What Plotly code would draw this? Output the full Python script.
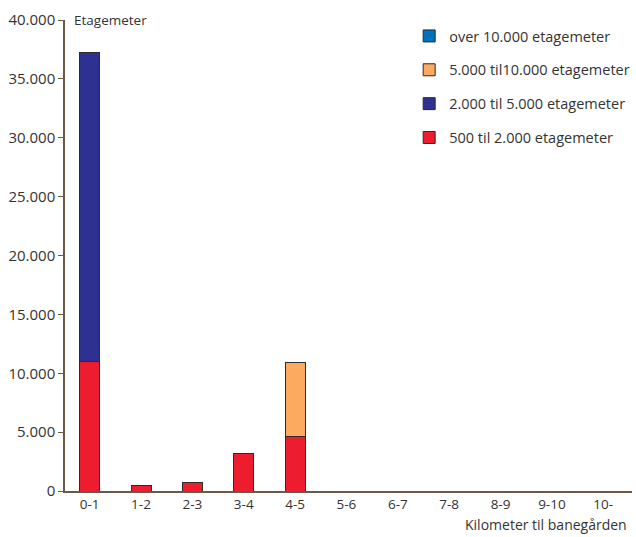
import plotly.graph_objects as go

categories = ["0-1", "1-2", "2-3", "3-4", "4-5", "5-6", "6-7", "7-8", "8-9", "9-10", "10-"]
s_500_2000 = [11000, 500, 730, 3160, 4630, 0, 0, 0, 0, 0, 0]
s_2000_5000 = [26200, 0, 0, 0, 0, 0, 0, 0, 0, 0, 0]
s_5000_10000 = [0, 0, 0, 0, 6270, 0, 0, 0, 0, 0, 0]
s_over_10000 = [0, 0, 0, 0, 0, 0, 0, 0, 0, 0, 0]

series = [
    ("500 til 2.000 etagemeter", s_500_2000, "#ED1C2E", 4),
    ("2.000 til 5.000 etagemeter", s_2000_5000, "#2E3192", 3),
    ("5.000 til10.000 etagemeter", s_5000_10000, "#FBAA60", 2),
    ("over 10.000 etagemeter", s_over_10000, "#0072BC", 1),
]

FONT = "Open Sans"
TXT = "#333333"
fig = go.Figure()
for name, vals, col, rank in series:
    fig.add_trace(go.Bar(
        x=categories, y=vals, name=name, legendgroup=name, legendrank=rank,
        marker=dict(color=col, line=dict(color="#2b2b2b", width=1)),
        width=0.39,
    ))

fig.update_layout(
    barmode="stack",
    width=636, height=537,
    margin=dict(l=65, r=1, t=20, b=46),
    plot_bgcolor="white", paper_bgcolor="white",
    separators=",.",
    font=dict(family=FONT, size=13, color=TXT),
    showlegend=True,
    legend=dict(
        x=0.607, y=1.0, xanchor="left", yanchor="top",
        traceorder="grouped", tracegroupgap=12,
        font=dict(family=FONT, size=14.5, color=TXT),
        itemwidth=30, bgcolor="rgba(0,0,0,0)",
    ),
    xaxis=dict(
        type="category", range=[-0.48, 10.56],
        showline=True, linecolor="#6b5846", linewidth=1.5,
        ticks="", showgrid=False, zeroline=False,
        tickfont=dict(family=FONT, size=13.5, color=TXT),
    ),
    yaxis=dict(
        range=[0, 40000], dtick=5000, tickformat=",d",
        showline=True, linecolor="#6b5846", linewidth=1.5,
        ticks="outside", ticklen=5, tickcolor="#6b5846",
        showgrid=False, zeroline=False,
        tickfont=dict(family=FONT, size=15, color=TXT),
    ),
    annotations=[
        dict(text="Etagemeter", xref="paper", yref="paper", x=0.013, y=1.0,
             xanchor="left", yanchor="middle", showarrow=False,
             font=dict(family=FONT, size=13.5, color=TXT)),
        dict(text="Kilometer til banegården", xref="paper", yref="paper", x=0.995, y=-0.071,
             xanchor="right", yanchor="middle", showarrow=False,
             font=dict(family=FONT, size=14, color=TXT)),
    ],
)

fig.write_html("out.html", config={"displayModeBar": False},
               post_script="document.body.style.margin='0';")
